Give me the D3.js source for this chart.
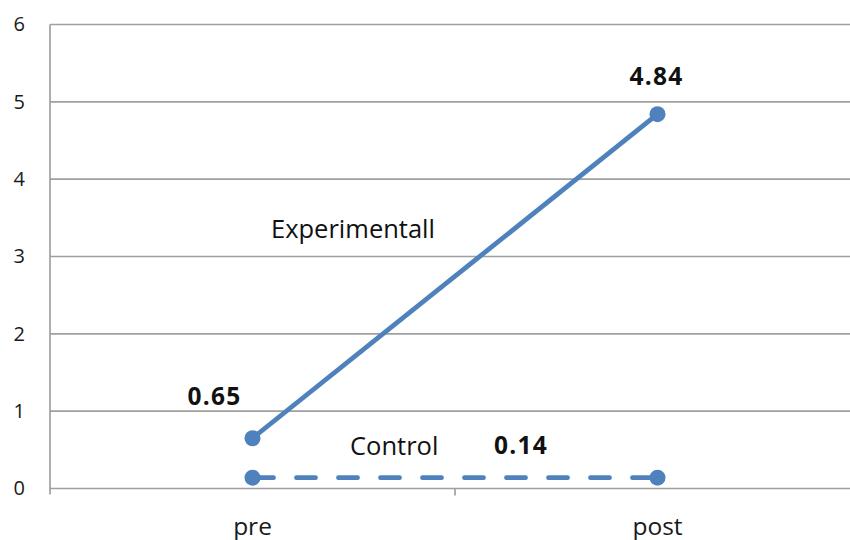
<!DOCTYPE html>
<html>
<head>
<meta charset="utf-8">
<script src="https://cdn.jsdelivr.net/npm/d3@7/dist/d3.min.js"></script>
<style>
  html, body { margin: 0; padding: 0; background: #fff; }
  svg { display: block; font-family: "Open Sans", "Noto Sans", sans-serif; }
</style>
</head>
<body>
<svg id="chart" width="850" height="540"></svg>
<script>
// Categories and series values
const phases = ["pre", "post"];
const experimental = [0.65, 4.84];
const control = [0.14, 0.14];
const yTicks = [0, 1, 2, 3, 4, 5, 6];

const svg = d3.select("#chart");
const plotLeft = 50, plotRight = 860, plotTop = 24.5, plotBottom = 488.5;

const x = d3.scaleBand().domain(phases).range([plotLeft, plotRight]);
const y = d3.scaleLinear().domain([0, 6]).range([plotBottom, plotTop]);
const cx = d => x(d) + x.bandwidth() / 2;

const blue = "#4f81bd";
const grid = "#a0a0a0";
const font = "'Open Sans', sans-serif";

// horizontal gridlines
svg.append("g").selectAll("line").data(yTicks.filter(t => t > 0)).join("line")
  .attr("x1", plotLeft).attr("x2", 850)
  .attr("y1", d => y(d)).attr("y2", d => y(d))
  .attr("stroke", grid).attr("stroke-width", 1.7);

// y axis
const yAxis = svg.append("g").attr("transform", `translate(${plotLeft},0)`)
  .call(d3.axisLeft(y).tickValues(yTicks).tickFormat(d3.format("d"))
    .tickSize(0).tickPadding(25));
yAxis.select(".domain").remove();
yAxis.selectAll("text").attr("font-size", 20).attr("fill", "#1a1a1a")
  .attr("font-family", font);
svg.append("line").attr("x1", plotLeft).attr("x2", plotLeft)
  .attr("y1", plotTop).attr("y2", plotBottom + 6)
  .attr("stroke", grid).attr("stroke-width", 1.7);

// x axis
const xAxis = svg.append("g").attr("transform", `translate(0,${plotBottom})`)
  .call(d3.axisBottom(x).tickSize(0));
xAxis.select(".domain").remove();
xAxis.selectAll("text").attr("font-size", 24.5).attr("fill", "#1a1a1a")
  .attr("font-family", font).attr("y", 46).attr("dy", 0);
svg.append("line").attr("x1", plotLeft).attr("x2", 850)
  .attr("y1", plotBottom).attr("y2", plotBottom)
  .attr("stroke", grid).attr("stroke-width", 1.7);
// category boundary ticks
svg.append("g").selectAll("line").data(phases.slice(1)).join("line")
  .attr("x1", d => x(d)).attr("x2", d => x(d))
  .attr("y1", plotBottom).attr("y2", plotBottom + 7)
  .attr("stroke", grid).attr("stroke-width", 1.7);

const line = d3.line().x((d, i) => cx(phases[i])).y(d => y(d));

// Control series (dashed)
svg.append("path").datum(control)
  .attr("d", line).attr("fill", "none")
  .attr("stroke", blue).attr("stroke-width", 4.8)
  .attr("stroke-linecap", "round")
  .attr("stroke-dasharray", "19,23").attr("stroke-dashoffset", -2);
svg.append("g").selectAll("circle").data(control).join("circle")
  .attr("cx", (d, i) => cx(phases[i])).attr("cy", d => y(d))
  .attr("r", 8).attr("fill", blue);

// Experimental series
svg.append("path").datum(experimental)
  .attr("d", line).attr("fill", "none")
  .attr("stroke", blue).attr("stroke-width", 4.8);
svg.append("g").selectAll("circle").data(experimental).join("circle")
  .attr("cx", (d, i) => cx(phases[i])).attr("cy", d => y(d))
  .attr("r", 8).attr("fill", blue);

// value labels
const bold = (txt, px, py) => svg.append("text")
  .attr("x", px).attr("y", py).attr("text-anchor", "middle")
  .attr("font-size", 24.5).attr("font-weight", "bold").attr("fill", "#111")
  .attr("letter-spacing", 1.2)
  .text(txt);
bold(experimental[1].toFixed(2), cx("post") - 1, y(experimental[1]) - 29);
bold(experimental[0].toFixed(2), cx("pre") - 38, y(experimental[0]) - 33);
bold(control[1].toFixed(2), 521, y(control[1]) - 24);

// series names
const name = (txt, px, py) => svg.append("text")
  .attr("x", px).attr("y", py).attr("font-size", 25.5).attr("fill", "#111")
  .text(txt);
name("Experimentall", 271, 238);
name("Control", 350, 455);
</script>
</body>
</html>
